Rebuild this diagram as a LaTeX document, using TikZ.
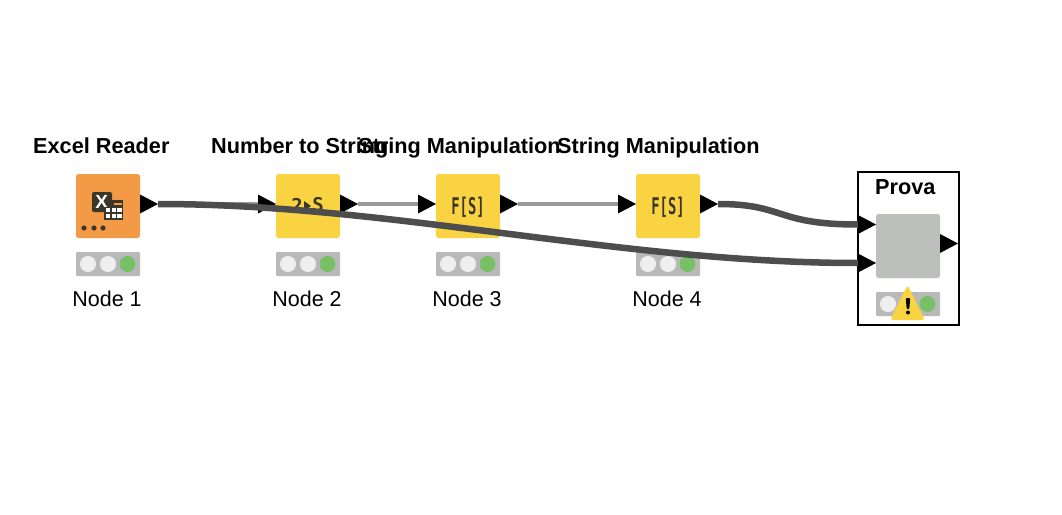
\documentclass[tikz,border=0pt]{standalone}
\usepackage{fontspec}
\setmainfont{Liberation Sans}
\newfontfamily\iconfont{DejaVu Sans Mono}
\usetikzlibrary{shapes.geometric}
\definecolor{orangeN}{HTML}{F39A46}
\definecolor{yellowN}{HTML}{F9D342}
\definecolor{grayN}{HTML}{BDBFBD}
\definecolor{statusbg}{HTML}{B9B9B9}
\definecolor{lampoff}{HTML}{EFEFEF}
\definecolor{lampon}{HTML}{77C066}
\definecolor{wiredark}{HTML}{4D4D4D}
\definecolor{wirelight}{HTML}{999999}
\definecolor{icondark}{HTML}{3A3628}
\tikzset{
  x=1pt,y=-1pt,
  nodebox/.style={rectangle,rounded corners=2.5,minimum width=64,minimum height=64,inner sep=0,outer sep=0,draw=none},
  statusbar/.style={rectangle,rounded corners=1,fill=statusbg,minimum width=64,minimum height=24,inner sep=0,outer sep=0},
  lamp/.style={circle,minimum size=16,inner sep=0,fill=lampoff},
  lampgo/.style={circle,minimum size=16,inner sep=0,fill=lampon},
  porttip/.style={fill=black,draw=none},
  title/.style={font=\fontsize{21.7}{24}\selectfont\bfseries,inner sep=0,anchor=base west},
  caption/.style={font=\fontsize{21.5}{24}\selectfont,inner sep=0,anchor=base},
  icontext/.style={font=\iconfont\fontsize{23}{24}\selectfont\bfseries,text=icondark,inner sep=0},
  wirethin/.style={draw=wirelight,line width=3.5},
  wirethick/.style={draw=wiredark,line width=6.5},
}
\newcommand{\porttri}[2]{\fill[porttip] (#1,#2-9.5) -- (#1+18,#2) -- (#1,#2+9.5) -- cycle;}
\newcommand{\statusat}[2]{%
  \node[statusbar] (#2) at (#1,264) {};
  \node[lamp] (#2a) at (#1-20,264) {};
  \node[lamp] (#2b) at (#1,264) {};
  \node[lampgo] (#2c) at (#1+19.5,264) {};}
\begin{document}
\begin{tikzpicture}
\useasboundingbox (0,0) rectangle (1062,514);
% boxes
\node[nodebox,fill=orangeN] (n1) at (108,206) {};
\node[nodebox,fill=yellowN] (n2) at (308,206) {};
\node[nodebox,fill=yellowN] (n3) at (468,206) {};
\node[nodebox,fill=yellowN] (n4) at (668,206) {};
% icons
\node[rectangle,rounded corners=2,fill=icondark,minimum width=20,minimum height=20,inner sep=0] (xa) at (102,202) {};
\node[font=\fontsize{19}{20}\selectfont\bfseries,text=white,inner sep=0] (xt) at (101.7,201.7) {X};
\fill[icondark] (112,200) rectangle (123,207);
\fill[orangeN] (113.5,203) rectangle (121.5,205);
\fill[icondark] (104,206.5) rectangle (123,220);
\foreach \cx in {108,114,119.5} \foreach \cy in {210,216} \fill[white] (\cx-2.2,\cy-2.2) rectangle (\cx+2.2,\cy+2.2);
\foreach \cx in {84,94,103} \fill[icondark] (\cx,228) circle (2.6);
\node[icontext,font=\iconfont\fontsize{19}{22}\selectfont\bfseries] (t2a) at (297,205) {2};
\node[icontext,font=\iconfont\fontsize{19}{22}\selectfont\bfseries] (t2b) at (318,205) {S};
\fill[icondark] (304,201) -- (311,206) -- (304,211) -- cycle;
\node[icontext] (t3) at (468,207) {\scalebox{.6}[1]{F[S]}};
\node[icontext] (t4) at (668,207) {\scalebox{.6}[1]{F[S]}};
% status
\statusat{108}{s1}
\statusat{308}{s2}
\statusat{468}{s3}
\statusat{668}{s4}
% Prova
\node[rectangle,draw=black,line width=2,minimum width=101,minimum height=153,inner sep=0,outer sep=0] (frame) at (908,248) {};
\node[nodebox,fill=grayN] (n5) at (908,246) {};
\node[statusbar] (s5) at (908,304) {};
\node[lamp] (s5a) at (888,304) {};
\node[lampgo] (s5c) at (927.5,304) {};
\fill[yellowN,rounded corners=3] (907.5,285) -- (925,320) -- (890,320) -- cycle;
\fill[black,rounded corners=1] (905.8,298) -- (910.2,298) -- (909.3,309) -- (906.7,309) -- cycle;
\fill[black] (908,312.5) circle (2);
% ports' free ends
\coordinate (o1) at (158,204);
\coordinate (i2) at (258,204);
\coordinate (o2) at (358,204);
\coordinate (i3) at (418,204);
\coordinate (o3) at (518,204);
\coordinate (i4) at (618,204);
\coordinate (o4) at (718,204);
\coordinate (i5a) at (858,224.5);
\coordinate (i5b) at (858,263);
% thin connectors
\draw[wirethin] (o1) -- (i2);
\draw[wirethin] (o2) -- (i3);
\draw[wirethin] (o3) -- (i4);
% ports
\porttri{140}{204}
\porttri{258}{204}
\porttri{340}{204}
\porttri{418}{204}
\porttri{500}{204}
\porttri{618}{204}
\porttri{700}{204}
\porttri{858}{224.5}
\porttri{858}{263}
\porttri{940}{243.5}
% thick connectors
\draw[wirethick] (o1) .. controls (390,204) and (620,263) .. (i5b);
\draw[wirethick] (o4) .. controls (785,204) and (775,224.5) .. (i5a);
% labels
\node[title] (l1) at (33,153.5) {Excel Reader};
\node[title] (l2) at (211,153.5) {Number to String};
\node[title] (l3) at (358,153.5) {String Manipulation};
\node[title] (l4) at (557,153.5) {String Manipulation};
\node[title] (l5) at (875,194.5) {Prova};
\node[caption] (c1) at (107,306) {Node 1};
\node[caption] (c2) at (307,306) {Node 2};
\node[caption] (c3) at (467,306) {Node 3};
\node[caption] (c4) at (667,306) {Node 4};
\end{tikzpicture}
\end{document}
